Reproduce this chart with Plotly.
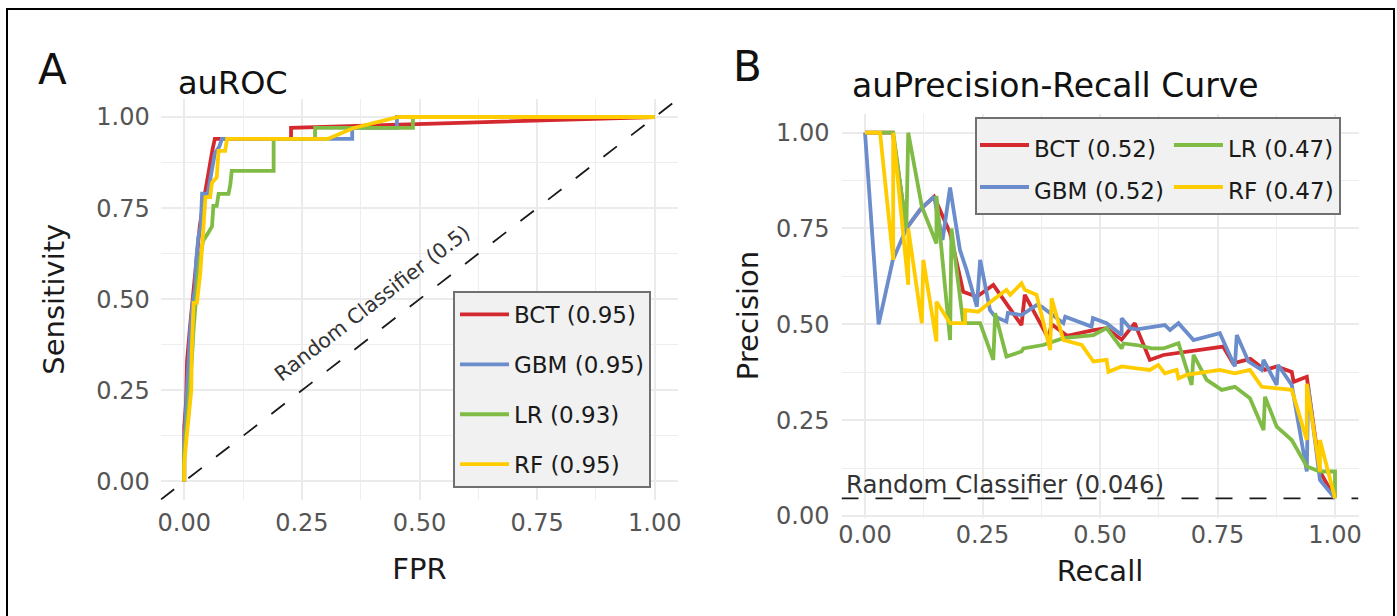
import plotly.graph_objects as go

# ---------------- data ----------------
models = ["BCT", "GBM", "LR", "RF"]
colors = ["#D42A2F", "#6B8DCB", "#80BC45", "#FFCC00"]
roc_auc = [0.95, 0.95, 0.93, 0.95]
pr_auc = [0.52, 0.52, 0.47, 0.47]
pr_baseline = 0.046
tick_vals = [0, 0.25, 0.5, 0.75, 1.0]
tick_text = ["0.00", "0.25", "0.50", "0.75", "1.00"]
minor_vals = [0.125, 0.375, 0.625, 0.875]

roc_fpr_bct = [0, 0, 0.004, 0.006, 0.012, 0.017, 0.022, 0.028, 0.033, 0.04, 0.045, 0.05, 0.055, 0.06, 0.065, 0.227, 0.227, 1.0]
roc_tpr_bct = [0, 0.15, 0.22, 0.33, 0.42, 0.49, 0.55, 0.64, 0.70, 0.76, 0.80, 0.84, 0.88, 0.91, 0.94, 0.94, 0.97, 1.0]

roc_fpr_gbm = [0, 0, 0.003, 0.008, 0.013, 0.018, 0.023, 0.025, 0.03, 0.035, 0.038, 0.05, 0.055, 0.06, 0.065, 0.075, 0.08, 0.357, 0.357, 0.452, 0.452, 1.0]
roc_tpr_gbm = [0, 0.10, 0.18, 0.30, 0.42, 0.49, 0.53, 0.60, 0.67, 0.70, 0.79, 0.79, 0.83, 0.86, 0.90, 0.92, 0.94, 0.94, 0.97, 0.97, 1.0, 1.0]

roc_fpr_lr = [0, 0, 0.005, 0.01, 0.014, 0.016, 0.02, 0.023, 0.028, 0.033, 0.04, 0.05, 0.059, 0.062, 0.069, 0.073, 0.094, 0.098, 0.101, 0.19, 0.19, 0.278, 0.278, 0.486, 0.486, 1.0]
roc_tpr_lr = [0, 0.08, 0.15, 0.22, 0.28, 0.33, 0.42, 0.48, 0.55, 0.61, 0.66, 0.68, 0.70, 0.756, 0.756, 0.789, 0.789, 0.815, 0.852, 0.852, 0.94, 0.94, 0.97, 0.97, 1.0, 1.0]

roc_fpr_rf = [0, 0, 0.005, 0.01, 0.015, 0.016, 0.02, 0.027, 0.034, 0.041, 0.045, 0.055, 0.059, 0.069, 0.073, 0.087, 0.091, 0.305, 0.36, 0.455, 1.0]
roc_tpr_rf = [0, 0.05, 0.12, 0.20, 0.25, 0.36, 0.49, 0.49, 0.57, 0.70, 0.78, 0.78, 0.82, 0.834, 0.907, 0.907, 0.94, 0.94, 0.97, 1.0, 1.0]

pr_rec_bct = [0, 0.059, 0.088, 0.118, 0.147, 0.176, 0.181, 0.209, 0.238, 0.273, 0.333, 0.34, 0.365, 0.39, 0.397, 0.43, 0.486, 0.514, 0.546, 0.574, 0.578, 0.606, 0.635, 0.713, 0.762, 0.783, 0.82, 0.851, 0.876, 0.908, 0.912, 0.94, 0.968, 1.0]
pr_prec_bct = [1.0, 1.0, 0.75, 0.8, 0.833, 0.75, 0.738, 0.585, 0.572, 0.603, 0.498, 0.577, 0.52, 0.464, 0.5, 0.47, 0.485, 0.49, 0.46, 0.503, 0.49, 0.407, 0.42, 0.433, 0.442, 0.398, 0.41, 0.381, 0.39, 0.376, 0.35, 0.363, 0.116, 0.046]

pr_rec_gbm = [0, 0.029, 0.059, 0.088, 0.118, 0.147, 0.165, 0.181, 0.202, 0.216, 0.238, 0.245, 0.266, 0.277, 0.301, 0.304, 0.333, 0.365, 0.376, 0.422, 0.426, 0.482, 0.485, 0.514, 0.546, 0.546, 0.564, 0.578, 0.638, 0.649, 0.667, 0.699, 0.755, 0.787, 0.791, 0.816, 0.844, 0.848, 0.876, 0.879, 0.908, 0.94, 0.943, 0.968, 1.0]
pr_prec_gbm = [1.0, 0.5, 0.667, 0.75, 0.8, 0.833, 0.72, 0.857, 0.694, 0.642, 0.546, 0.668, 0.537, 0.52, 0.507, 0.53, 0.524, 0.55, 0.546, 0.503, 0.52, 0.494, 0.516, 0.503, 0.472, 0.516, 0.49, 0.487, 0.498, 0.485, 0.503, 0.459, 0.477, 0.39, 0.472, 0.403, 0.381, 0.407, 0.342, 0.394, 0.342, 0.116, 0.337, 0.094, 0.046]

pr_rec_lr = [0, 0.06, 0.088, 0.092, 0.121, 0.152, 0.152, 0.181, 0.184, 0.209, 0.245, 0.273, 0.277, 0.301, 0.333, 0.337, 0.379, 0.422, 0.486, 0.514, 0.546, 0.55, 0.578, 0.61, 0.635, 0.667, 0.695, 0.699, 0.727, 0.759, 0.787, 0.819, 0.848, 0.851, 0.876, 0.908, 0.94, 0.968, 1.0, 1.0]
pr_prec_lr = [1.0, 1.0, 0.75, 1.0, 0.807, 0.711, 0.835, 0.459, 0.75, 0.503, 0.503, 0.407, 0.529, 0.416, 0.429, 0.437, 0.446, 0.464, 0.472, 0.49, 0.437, 0.45, 0.446, 0.437, 0.437, 0.451, 0.342, 0.42, 0.355, 0.329, 0.337, 0.307, 0.224, 0.311, 0.233, 0.198, 0.129, 0.116, 0.116, 0.046]

pr_rec_rf = [0, 0.032, 0.06, 0.06, 0.092, 0.092, 0.121, 0.124, 0.152, 0.152, 0.181, 0.213, 0.213, 0.241, 0.273, 0.301, 0.309, 0.333, 0.34, 0.365, 0.394, 0.397, 0.422, 0.461, 0.486, 0.514, 0.518, 0.546, 0.578, 0.606, 0.624, 0.638, 0.663, 0.667, 0.684, 0.755, 0.787, 0.819, 0.844, 0.908, 0.94, 0.94, 0.968, 0.968, 1.0]
pr_prec_rf = [1.0, 1.0, 0.668, 1.0, 0.603, 0.75, 0.503, 0.668, 0.455, 0.559, 0.503, 0.503, 0.537, 0.533, 0.564, 0.59, 0.577, 0.607, 0.59, 0.577, 0.433, 0.568, 0.459, 0.446, 0.403, 0.407, 0.376, 0.39, 0.385, 0.381, 0.394, 0.372, 0.381, 0.359, 0.368, 0.381, 0.372, 0.381, 0.337, 0.329, 0.198, 0.345, 0.116, 0.198, 0.046]

roc_x = [roc_fpr_bct, roc_fpr_gbm, roc_fpr_lr, roc_fpr_rf]
roc_y = [roc_tpr_bct, roc_tpr_gbm, roc_tpr_lr, roc_tpr_rf]
pr_x = [pr_rec_bct, pr_rec_gbm, pr_rec_lr, pr_rec_rf]
pr_y = [pr_prec_bct, pr_prec_gbm, pr_prec_lr, pr_prec_rf]

# ---------------- layout geometry (pixels) ----------------
W, H = 1397, 616
FONT = "DejaVu Sans"
RANGE_A = [-0.05, 1.05]
RANGE_BX = [-0.05, 1.05]
RANGE_BY = [-0.004, 1.05]
LINE_W = 3.8


def px_x(p):
    return p / W


def px_y(p):
    return 1 - p / H


fig = go.Figure()

# diagonal random classifier line (panel A)
fig.add_trace(go.Scatter(x=RANGE_A, y=RANGE_A, mode="lines",
                         line=dict(color="#1a1a1a", width=1.8, dash="17px,18px"),
                         showlegend=False, hoverinfo="skip", xaxis="x", yaxis="y"))

for i, m in enumerate(models):
    fig.add_trace(go.Scatter(
        x=roc_x[i], y=roc_y[i], mode="lines",
        line=dict(color=colors[i], width=LINE_W),
        name=f"{m} ({roc_auc[i]:.2f})", legend="legend",
        legendgroup=f"roc{i}", xaxis="x", yaxis="y"))

# horizontal random classifier line (panel B)
fig.add_trace(go.Scatter(x=RANGE_BX, y=[pr_baseline, pr_baseline], mode="lines",
                         line=dict(color="#1a1a1a", width=1.8, dash="17px,17px"),
                         showlegend=False, hoverinfo="skip", xaxis="x2", yaxis="y2"))

for i, m in enumerate(models):
    fig.add_trace(go.Scatter(
        x=pr_x[i], y=pr_y[i], mode="lines",
        line=dict(color=colors[i], width=LINE_W),
        name=f'<span style="font-size:23px">{m} ({pr_auc[i]:.2f})</span>',
        legend="legend2", legendgroup="prA" if i < 2 else "prB",
        xaxis="x2", yaxis="y2"))

axis_common = dict(
    tickvals=tick_vals, ticktext=tick_text,
    showgrid=True, gridcolor="#EBEBEB", gridwidth=2,
    minor=dict(tickvals=minor_vals, showgrid=True, gridcolor="#EEEEEE", gridwidth=1, ticks=""),
    zeroline=False, showline=False, ticks="", automargin=False,
    tickfont=dict(family=FONT, size=24, color="#555555"),
    fixedrange=True,
)
title_font = dict(family=FONT, size=29, color="#1a1a1a")

fig.update_layout(
    width=W, height=H,
    margin=dict(l=0, r=0, t=0, b=0),
    paper_bgcolor="white", plot_bgcolor="white",
    font=dict(family=FONT, color="#1a1a1a"),
    xaxis=dict(axis_common, range=RANGE_A, domain=[px_x(160.7), px_x(678.3)], anchor="y",
               title=dict(text="FPR", font=title_font, standoff=22),
               ticklabelstandoff=6),
    yaxis=dict(axis_common, range=RANGE_A, domain=[px_y(499.7), px_y(98.8)], anchor="x",
               title=dict(text="Sensitivity", font=title_font, standoff=23),
               ticklabelstandoff=10),
    xaxis2=dict(axis_common, range=RANGE_BX, domain=[px_x(841.5), px_x(1358.5)], anchor="y2",
                title=dict(text="Recall", font=title_font, standoff=13),
                ticklabelstandoff=0),
    yaxis2=dict(axis_common, range=RANGE_BY, domain=[px_y(517.5), px_y(113.5)], anchor="x2",
                title=dict(text="Precision", font=title_font, standoff=8),
                ticklabelstandoff=11),
    legend=dict(x=px_x(453), y=px_y(291), xanchor="left", yanchor="top",
                bgcolor="#F0F1F0", bordercolor="#707070", borderwidth=2,
                font=dict(family=FONT, size=23, color="#1a1a1a"),
                tracegroupgap=17, itemwidth=49, orientation="v"),
    legend2=dict(x=px_x(975), y=px_y(117), xanchor="left", yanchor="top",
                 bgcolor="#F0F1F0", bordercolor="#707070", borderwidth=2,
                 font=dict(family=FONT, size=30, color="#1a1a1a"),
                 tracegroupgap=0, itemwidth=49, orientation="h", traceorder="grouped"),
    showlegend=True,
    hovermode=False,
)

annos = [
    dict(text="A", x=px_x(36), y=px_y(69), font=dict(family=FONT, size=42, color="#111111")),
    dict(text="auROC", x=px_x(176), y=px_y(83), font=dict(family=FONT, size=32, color="#111111")),
    dict(text="B", x=px_x(731), y=px_y(67), font=dict(family=FONT, size=42, color="#111111")),
    dict(text="auPrecision-Recall Curve", x=px_x(850), y=px_y(85), font=dict(family=FONT, size=33, color="#111111")),
]
for a in annos:
    fig.add_annotation(xref="paper", yref="paper", xanchor="left", yanchor="middle",
                       showarrow=False, **a)

fig.add_annotation(xref="x", yref="y", x=0.40, y=0.49, text="Random Classifier (0.5)",
                   textangle=-37.7, showarrow=False,
                   font=dict(family=FONT, size=20.5, color="#333333"))
fig.add_annotation(xref="x2", yref="y2", x=-0.044, y=pr_baseline, text="Random Classifier (0.046)",
                   xanchor="left", yanchor="bottom", yshift=-3, showarrow=False,
                   font=dict(family=FONT, size=24.5, color="#333333"))

# outer frame
fig.add_shape(type="rect", xref="paper", yref="paper",
              x0=px_x(7), x1=px_x(1394), y0=-0.1, y1=px_y(9),
              line=dict(color="black", width=2), fillcolor="rgba(0,0,0,0)", layer="above")

fig.write_html("out.html", config={"displayModeBar": False},
               post_script="document.body.style.margin='0px';document.body.style.overflow='hidden';")
